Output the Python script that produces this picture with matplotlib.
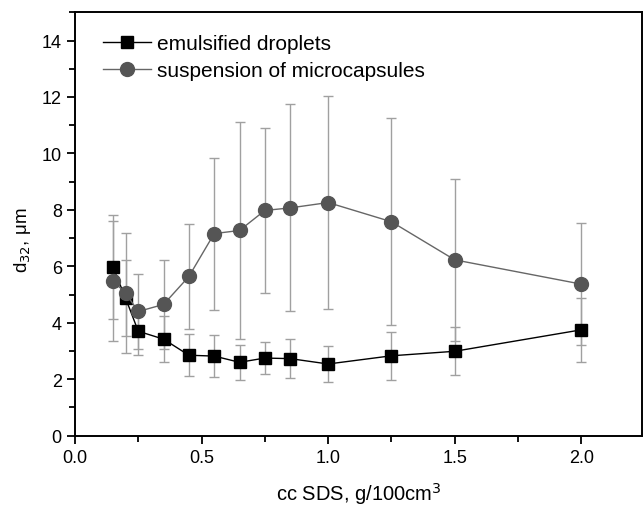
import matplotlib.pyplot as plt
from matplotlib.ticker import MultipleLocator

plt.rcParams['font.family'] = ['Liberation Sans', 'DejaVu Sans']

# concentration of SDS, g/100cm3
cc = [0.15, 0.2, 0.25, 0.35, 0.45, 0.55, 0.65, 0.75, 0.85, 1.0, 1.25, 1.5, 2.0]

# emulsified droplets
drop = [5.97, 4.87, 3.70, 3.42, 2.85, 2.82, 2.60, 2.75, 2.73, 2.54, 2.83, 2.99, 3.75]
drop_err = [1.84, 1.35, 0.83, 0.82, 0.74, 0.74, 0.63, 0.58, 0.69, 0.65, 0.85, 0.85, 1.14]

# suspension of microcapsules
caps = [5.49, 5.05, 4.40, 4.65, 5.64, 7.16, 7.27, 7.98, 8.07, 8.26, 7.58, 6.23, 5.37]
caps_err = [2.12, 2.12, 1.33, 1.57, 1.87, 2.69, 3.85, 2.92, 3.67, 3.77, 3.67, 2.86, 2.15]

fig = plt.figure(figsize=(6.43, 5.06), dpi=100)
ax = fig.add_axes([0.1166, 0.137, 0.8819, 0.8367])

# error bars behind the markers
ax.errorbar(cc, caps, yerr=caps_err, fmt='none', ecolor='#a0a0a0',
            elinewidth=1, capsize=3.5, capthick=1, zorder=1)
ax.errorbar(cc, drop, yerr=drop_err, fmt='none', ecolor='#a0a0a0',
            elinewidth=1, capsize=3.5, capthick=1, zorder=1)

ax.plot(cc, drop, color='black', lw=1, marker='s', ms=9,
        mfc='black', mec='black', label='emulsified droplets', zorder=3)
ax.plot(cc, caps, color='#666666', lw=1, marker='o', ms=10,
        mfc='#555555', mec='#555555', label='suspension of microcapsules', zorder=4)

ax.set_xlim(0, 2.24)
ax.set_ylim(0, 15)
ax.xaxis.set_major_locator(MultipleLocator(0.5))
ax.xaxis.set_minor_locator(MultipleLocator(0.25))
ax.yaxis.set_minor_locator(MultipleLocator(1))
ax.set_yticks(range(0, 15, 2))
ax.xaxis.set_major_formatter(plt.FormatStrFormatter('%.1f'))

ax.tick_params(which='major', direction='out', length=6, width=1.3, labelsize=13)
ax.tick_params(which='minor', direction='out', length=4, width=1.3)
ax.tick_params(top=False, right=False)
for s in ax.spines.values():
    s.set_linewidth(1.4)

ax.set_xlabel('cc SDS, g/100cm$^3$', fontsize=14.5)
ax.xaxis.set_label_coords(0.5, -0.105)
ax.set_ylabel('d$_{32}$, \u03bcm', fontsize=13.5)
ax.yaxis.set_label_coords(-0.074, 0.465)

ax.legend(loc='upper left', frameon=False, fontsize=15, handlelength=2.3,
          handletextpad=0.3, labelspacing=0.38, borderaxespad=0, borderpad=0,
          bbox_to_anchor=(0.049, 0.948))

fig.savefig('out.png', dpi=100)
